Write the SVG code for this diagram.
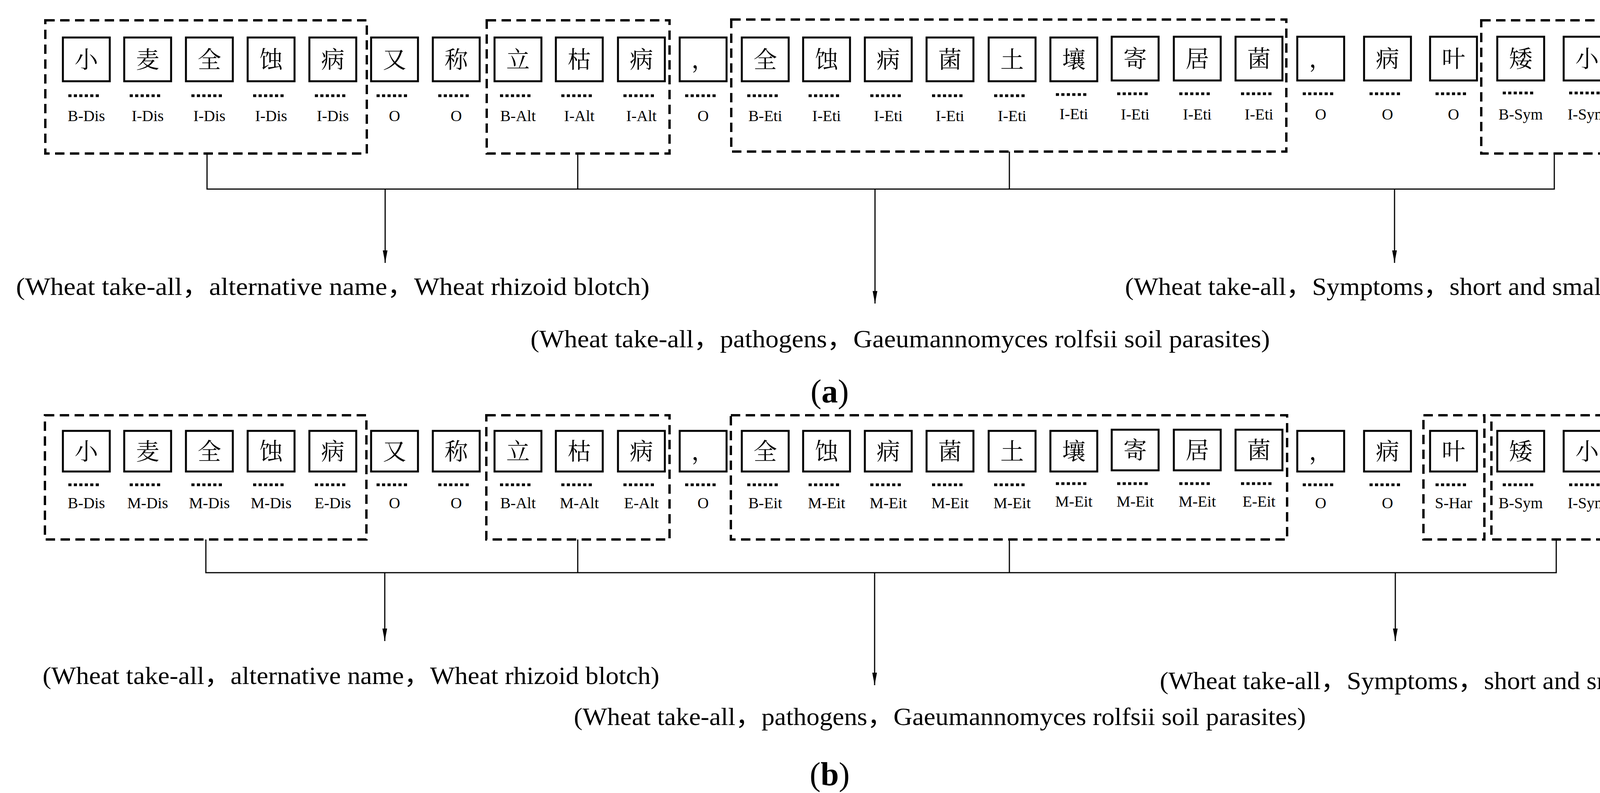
<svg xmlns="http://www.w3.org/2000/svg" width="4259" height="2030" viewBox="0 0 4259 2030">
<style>
.bg{fill:#fff}
.cb{fill:#fff;stroke:#000;stroke-width:5}
.ch{font-family:"Noto Serif CJK SC","Noto Sans CJK SC",serif;font-size:60px;text-anchor:middle;fill:#000}
.dt{stroke:#000;stroke-width:7;stroke-dasharray:8,6}
.lb{font-family:"Liberation Serif",serif;font-size:40px;text-anchor:middle;fill:#000}
.db{fill:none;stroke:#000;stroke-width:6;stroke-dasharray:24,14}
.cn{fill:none;stroke:#000;stroke-width:3}
.tx{font-family:"Liberation Serif","Noto Sans CJK SC",serif;font-size:64px;fill:#000}
.cap{font-family:"Liberation Serif",serif;font-size:84px;text-anchor:middle;fill:#000}
</style>
<defs>
<marker id="ah" viewBox="0 0 32 12" refX="32" refY="6" markerWidth="32" markerHeight="12" markerUnits="userSpaceOnUse" orient="auto">
<path d="M0,0 L32,6 L0,12 Z" fill="#000"/>
</marker>
</defs>
<rect class="bg" x="0" y="0" width="4259" height="2030"/>

<!-- Panel (a) -->
<g id="a-groups">
<rect id="a-dis" class="db" x="116" y="52" width="823" height="341"/>
<rect id="a-alt" class="db" x="1246" y="52" width="468" height="341"/>
<rect id="a-eti" class="db" x="1872" y="50" width="1421" height="338"/>
<rect id="a-sym" class="db" x="3792" y="52" width="371" height="341"/>
</g>
<g id="a-tokens">
<g id="a1"><rect class="cb" x="161" y="96" width="120" height="112"/><text class="ch" x="221" y="174">小</text><line class="dt" x1="175" y1="245" x2="257" y2="245"/><text class="lb" x="221" y="310">B-Dis</text></g>
<g id="a2"><rect class="cb" x="318" y="96" width="120" height="112"/><text class="ch" x="378" y="174">麦</text><line class="dt" x1="332" y1="245" x2="414" y2="245"/><text class="lb" x="378" y="310">I-Dis</text></g>
<g id="a3"><rect class="cb" x="476" y="96" width="120" height="112"/><text class="ch" x="536" y="174">全</text><line class="dt" x1="490" y1="245" x2="572" y2="245"/><text class="lb" x="536" y="310">I-Dis</text></g>
<g id="a4"><rect class="cb" x="634" y="96" width="120" height="112"/><text class="ch" x="694" y="174">蚀</text><line class="dt" x1="648" y1="245" x2="730" y2="245"/><text class="lb" x="694" y="310">I-Dis</text></g>
<g id="a5"><rect class="cb" x="792" y="96" width="120" height="112"/><text class="ch" x="852" y="174">病</text><line class="dt" x1="806" y1="245" x2="888" y2="245"/><text class="lb" x="852" y="310">I-Dis</text></g>
<g id="a6"><rect class="cb" x="950" y="96" width="120" height="112"/><text class="ch" x="1010" y="174">又</text><line class="dt" x1="964" y1="245" x2="1046" y2="245"/><text class="lb" x="1010" y="310">O</text></g>
<g id="a7"><rect class="cb" x="1108" y="96" width="120" height="112"/><text class="ch" x="1168" y="174">称</text><line class="dt" x1="1122" y1="245" x2="1204" y2="245"/><text class="lb" x="1168" y="310">O</text></g>
<g id="a8"><rect class="cb" x="1266" y="96" width="120" height="112"/><text class="ch" x="1326" y="174">立</text><line class="dt" x1="1280" y1="245" x2="1362" y2="245"/><text class="lb" x="1326" y="310">B-Alt</text></g>
<g id="a9"><rect class="cb" x="1423" y="96" width="120" height="112"/><text class="ch" x="1483" y="174">枯</text><line class="dt" x1="1437" y1="245" x2="1519" y2="245"/><text class="lb" x="1483" y="310">I-Alt</text></g>
<g id="a10"><rect class="cb" x="1582" y="96" width="120" height="112"/><text class="ch" x="1642" y="174">病</text><line class="dt" x1="1596" y1="245" x2="1678" y2="245"/><text class="lb" x="1642" y="310">I-Alt</text></g>
<g id="a11"><rect class="cb" x="1740" y="96" width="120" height="112"/><text class="ch" x="1800" y="174">，</text><line class="dt" x1="1754" y1="245" x2="1836" y2="245"/><text class="lb" x="1800" y="310">O</text></g>
<g id="a12"><rect class="cb" x="1899" y="96" width="120" height="112"/><text class="ch" x="1959" y="174">全</text><line class="dt" x1="1913" y1="245" x2="1995" y2="245"/><text class="lb" x="1959" y="310">B-Eti</text></g>
<g id="a13"><rect class="cb" x="2056" y="96" width="120" height="112"/><text class="ch" x="2116" y="174">蚀</text><line class="dt" x1="2070" y1="245" x2="2152" y2="245"/><text class="lb" x="2116" y="310">I-Eti</text></g>
<g id="a14"><rect class="cb" x="2214" y="96" width="120" height="112"/><text class="ch" x="2274" y="174">病</text><line class="dt" x1="2228" y1="245" x2="2310" y2="245"/><text class="lb" x="2274" y="310">I-Eti</text></g>
<g id="a15"><rect class="cb" x="2372" y="96" width="120" height="112"/><text class="ch" x="2432" y="174">菌</text><line class="dt" x1="2386" y1="245" x2="2468" y2="245"/><text class="lb" x="2432" y="310">I-Eti</text></g>
<g id="a16"><rect class="cb" x="2531" y="96" width="120" height="112"/><text class="ch" x="2591" y="174">土</text><line class="dt" x1="2545" y1="245" x2="2627" y2="245"/><text class="lb" x="2591" y="310">I-Eti</text></g>
<g id="a17"><rect class="cb" x="2689" y="96" width="120" height="112"/><text class="ch" x="2749" y="174">壤</text><line class="dt" x1="2703" y1="242" x2="2785" y2="242"/><text class="lb" x="2749" y="305">I-Eti</text></g>
<g id="a18"><rect class="cb" x="2846" y="94" width="120" height="112"/><text class="ch" x="2906" y="172">寄</text><line class="dt" x1="2860" y1="240" x2="2942" y2="240"/><text class="lb" x="2906" y="306">I-Eti</text></g>
<g id="a19"><rect class="cb" x="3005" y="94" width="120" height="112"/><text class="ch" x="3065" y="172">居</text><line class="dt" x1="3019" y1="240" x2="3101" y2="240"/><text class="lb" x="3065" y="306">I-Eti</text></g>
<g id="a20"><rect class="cb" x="3163" y="94" width="120" height="112"/><text class="ch" x="3223" y="172">菌</text><line class="dt" x1="3177" y1="240" x2="3259" y2="240"/><text class="lb" x="3223" y="306">I-Eti</text></g>
<g id="a21"><rect class="cb" x="3321" y="94" width="120" height="112"/><text class="ch" x="3381" y="172">，</text><line class="dt" x1="3335" y1="240" x2="3417" y2="240"/><text class="lb" x="3381" y="306">O</text></g>
<g id="a22"><rect class="cb" x="3492" y="94" width="120" height="112"/><text class="ch" x="3552" y="172">病</text><line class="dt" x1="3506" y1="240" x2="3588" y2="240"/><text class="lb" x="3552" y="306">O</text></g>
<g id="a23"><rect class="cb" x="3661" y="94" width="120" height="112"/><text class="ch" x="3721" y="172">叶</text><line class="dt" x1="3675" y1="240" x2="3757" y2="240"/><text class="lb" x="3721" y="306">O</text></g>
<g id="a24"><rect class="cb" x="3833" y="94" width="120" height="112"/><text class="ch" x="3893" y="172">矮</text><line class="dt" x1="3847" y1="238" x2="3929" y2="238"/><text class="lb" x="3893" y="306">B-Sym</text></g>
<g id="a25"><rect class="cb" x="4003" y="94" width="120" height="112"/><text class="ch" x="4063" y="172">小</text><line class="dt" x1="4017" y1="238" x2="4099" y2="238"/><text class="lb" x="4063" y="306">I-Sym</text></g>
</g>
<g id="a-connectors">
<polyline class="cn" points="530,393 530,484 3979,484 3979,393"/>
<line class="cn" x1="1479" y1="393" x2="1479" y2="484"/>
<line class="cn" x1="2584" y1="388" x2="2584" y2="484"/>
<line class="cn" x1="986" y1="484" x2="986" y2="673" marker-end="url(#ah)"/>
<line class="cn" x1="2240" y1="484" x2="2240" y2="777" marker-end="url(#ah)"/>
<line class="cn" x1="3570" y1="484" x2="3570" y2="673" marker-end="url(#ah)"/>
</g>
<g id="a-results">
<text class="tx" x="41" y="755" textLength="1622" lengthAdjust="spacingAndGlyphs">(Wheat take-all，alternative name，Wheat rhizoid blotch)</text>
<text class="tx" x="1358" y="889" textLength="1893" lengthAdjust="spacingAndGlyphs">(Wheat take-all，pathogens，Gaeumannomyces rolfsii soil parasites)</text>
<text class="tx" x="2880" y="755" textLength="1260" lengthAdjust="spacingAndGlyphs">(Wheat take-all，Symptoms，short and small)</text>
<text class="cap" x="2124" y="1030">(<tspan font-weight="bold">a</tspan>)</text>
</g>

<!-- Panel (b) -->
<g id="b-groups">
<rect id="b-dis" class="db" x="115" y="1063" width="823" height="318"/>
<rect id="b-alt" class="db" x="1245" y="1063" width="469" height="318"/>
<rect id="b-eit" class="db" x="1871" y="1063" width="1424" height="318"/>
<rect id="b-har" class="db" x="3644" y="1063" width="156" height="318"/>
<rect id="b-sym" class="db" x="3818" y="1063" width="329" height="318"/>
</g>
<g id="b-tokens">
<g id="b1"><rect class="cb" x="161" y="1103" width="120" height="104"/><text class="ch" x="221" y="1177">小</text><line class="dt" x1="175" y1="1241" x2="257" y2="1241"/><text class="lb" x="221" y="1301">B-Dis</text></g>
<g id="b2"><rect class="cb" x="318" y="1103" width="120" height="104"/><text class="ch" x="378" y="1177">麦</text><line class="dt" x1="332" y1="1241" x2="414" y2="1241"/><text class="lb" x="378" y="1301">M-Dis</text></g>
<g id="b3"><rect class="cb" x="476" y="1103" width="120" height="104"/><text class="ch" x="536" y="1177">全</text><line class="dt" x1="490" y1="1241" x2="572" y2="1241"/><text class="lb" x="536" y="1301">M-Dis</text></g>
<g id="b4"><rect class="cb" x="634" y="1103" width="120" height="104"/><text class="ch" x="694" y="1177">蚀</text><line class="dt" x1="648" y1="1241" x2="730" y2="1241"/><text class="lb" x="694" y="1301">M-Dis</text></g>
<g id="b5"><rect class="cb" x="792" y="1103" width="120" height="104"/><text class="ch" x="852" y="1177">病</text><line class="dt" x1="806" y1="1241" x2="888" y2="1241"/><text class="lb" x="852" y="1301">E-Dis</text></g>
<g id="b6"><rect class="cb" x="950" y="1103" width="120" height="104"/><text class="ch" x="1010" y="1177">又</text><line class="dt" x1="964" y1="1241" x2="1046" y2="1241"/><text class="lb" x="1010" y="1301">O</text></g>
<g id="b7"><rect class="cb" x="1108" y="1103" width="120" height="104"/><text class="ch" x="1168" y="1177">称</text><line class="dt" x1="1122" y1="1241" x2="1204" y2="1241"/><text class="lb" x="1168" y="1301">O</text></g>
<g id="b8"><rect class="cb" x="1266" y="1103" width="120" height="104"/><text class="ch" x="1326" y="1177">立</text><line class="dt" x1="1280" y1="1241" x2="1362" y2="1241"/><text class="lb" x="1326" y="1301">B-Alt</text></g>
<g id="b9"><rect class="cb" x="1423" y="1103" width="120" height="104"/><text class="ch" x="1483" y="1177">枯</text><line class="dt" x1="1437" y1="1241" x2="1519" y2="1241"/><text class="lb" x="1483" y="1301">M-Alt</text></g>
<g id="b10"><rect class="cb" x="1582" y="1103" width="120" height="104"/><text class="ch" x="1642" y="1177">病</text><line class="dt" x1="1596" y1="1241" x2="1678" y2="1241"/><text class="lb" x="1642" y="1301">E-Alt</text></g>
<g id="b11"><rect class="cb" x="1740" y="1103" width="120" height="104"/><text class="ch" x="1800" y="1177">，</text><line class="dt" x1="1754" y1="1241" x2="1836" y2="1241"/><text class="lb" x="1800" y="1301">O</text></g>
<g id="b12"><rect class="cb" x="1899" y="1103" width="120" height="104"/><text class="ch" x="1959" y="1177">全</text><line class="dt" x1="1913" y1="1241" x2="1995" y2="1241"/><text class="lb" x="1959" y="1301">B-Eit</text></g>
<g id="b13"><rect class="cb" x="2056" y="1103" width="120" height="104"/><text class="ch" x="2116" y="1177">蚀</text><line class="dt" x1="2070" y1="1241" x2="2152" y2="1241"/><text class="lb" x="2116" y="1301">M-Eit</text></g>
<g id="b14"><rect class="cb" x="2214" y="1103" width="120" height="104"/><text class="ch" x="2274" y="1177">病</text><line class="dt" x1="2228" y1="1241" x2="2310" y2="1241"/><text class="lb" x="2274" y="1301">M-Eit</text></g>
<g id="b15"><rect class="cb" x="2372" y="1103" width="120" height="104"/><text class="ch" x="2432" y="1177">菌</text><line class="dt" x1="2386" y1="1241" x2="2468" y2="1241"/><text class="lb" x="2432" y="1301">M-Eit</text></g>
<g id="b16"><rect class="cb" x="2531" y="1103" width="120" height="104"/><text class="ch" x="2591" y="1177">土</text><line class="dt" x1="2545" y1="1241" x2="2627" y2="1241"/><text class="lb" x="2591" y="1301">M-Eit</text></g>
<g id="b17"><rect class="cb" x="2689" y="1103" width="120" height="104"/><text class="ch" x="2749" y="1177">壤</text><line class="dt" x1="2703" y1="1238" x2="2785" y2="1238"/><text class="lb" x="2749" y="1297">M-Eit</text></g>
<g id="b18"><rect class="cb" x="2846" y="1100" width="120" height="104"/><text class="ch" x="2906" y="1174">寄</text><line class="dt" x1="2860" y1="1238" x2="2942" y2="1238"/><text class="lb" x="2906" y="1297">M-Eit</text></g>
<g id="b19"><rect class="cb" x="3005" y="1100" width="120" height="104"/><text class="ch" x="3065" y="1174">居</text><line class="dt" x1="3019" y1="1238" x2="3101" y2="1238"/><text class="lb" x="3065" y="1297">M-Eit</text></g>
<g id="b20"><rect class="cb" x="3163" y="1100" width="120" height="104"/><text class="ch" x="3223" y="1174">菌</text><line class="dt" x1="3177" y1="1238" x2="3259" y2="1238"/><text class="lb" x="3223" y="1297">E-Eit</text></g>
<g id="b21"><rect class="cb" x="3321" y="1103" width="120" height="104"/><text class="ch" x="3381" y="1177">，</text><line class="dt" x1="3335" y1="1241" x2="3417" y2="1241"/><text class="lb" x="3381" y="1301">O</text></g>
<g id="b22"><rect class="cb" x="3492" y="1103" width="120" height="104"/><text class="ch" x="3552" y="1177">病</text><line class="dt" x1="3506" y1="1241" x2="3588" y2="1241"/><text class="lb" x="3552" y="1301">O</text></g>
<g id="b23"><rect class="cb" x="3661" y="1103" width="120" height="104"/><text class="ch" x="3721" y="1177">叶</text><line class="dt" x1="3675" y1="1241" x2="3757" y2="1241"/><text class="lb" x="3721" y="1301">S-Har</text></g>
<g id="b24"><rect class="cb" x="3833" y="1103" width="120" height="104"/><text class="ch" x="3893" y="1177">矮</text><line class="dt" x1="3847" y1="1241" x2="3929" y2="1241"/><text class="lb" x="3893" y="1301">B-Sym</text></g>
<g id="b25"><rect class="cb" x="4003" y="1103" width="120" height="104"/><text class="ch" x="4063" y="1177">小</text><line class="dt" x1="4017" y1="1241" x2="4099" y2="1241"/><text class="lb" x="4063" y="1301">I-Sym</text></g>
</g>
<g id="b-connectors">
<polyline class="cn" points="527,1381 527,1466 3984,1466 3984,1381"/>
<line class="cn" x1="1479" y1="1381" x2="1479" y2="1466"/>
<line class="cn" x1="2584" y1="1381" x2="2584" y2="1466"/>
<line class="cn" x1="985" y1="1466" x2="985" y2="1641" marker-end="url(#ah)"/>
<line class="cn" x1="2239" y1="1466" x2="2239" y2="1754" marker-end="url(#ah)"/>
<line class="cn" x1="3572" y1="1466" x2="3572" y2="1641" marker-end="url(#ah)"/>
</g>
<g id="b-results">
<text class="tx" x="109" y="1751" textLength="1579" lengthAdjust="spacingAndGlyphs">(Wheat take-all，alternative name，Wheat rhizoid blotch)</text>
<text class="tx" x="1469" y="1856" textLength="1874" lengthAdjust="spacingAndGlyphs">(Wheat take-all，pathogens，Gaeumannomyces rolfsii soil parasites)</text>
<text class="tx" x="2969" y="1764" textLength="1259" lengthAdjust="spacingAndGlyphs">(Wheat take-all，Symptoms，short and small)</text>
<text class="cap" x="2124" y="2010">(<tspan font-weight="bold">b</tspan>)</text>
</g>
</svg>
